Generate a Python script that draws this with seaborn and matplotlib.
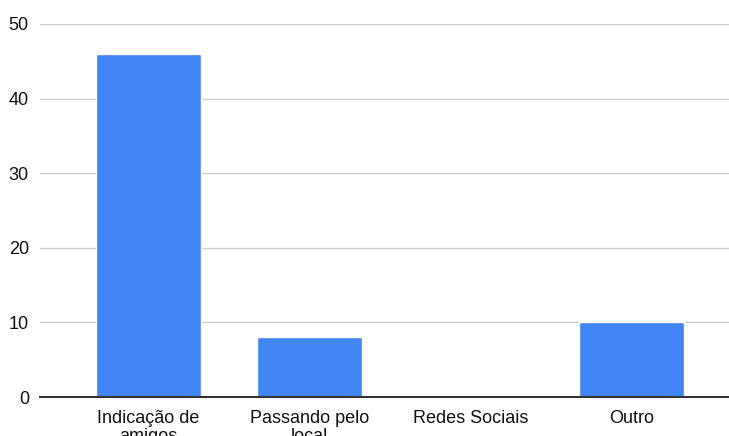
import matplotlib
matplotlib.use("Agg")
import matplotlib.pyplot as plt
import seaborn as sns
import pandas as pd

categories = ["Indicação de\namigos", "Passando pelo\nlocal", "Redes Sociais", "Outro"]
values = [46, 8, 0, 10]
yticks = [0, 10, 20, 30, 40, 50]

sns.set_theme(style="white")
plt.rcParams['font.family'] = ['Liberation Sans', 'DejaVu Sans']

df = pd.DataFrame({"cat": categories, "val": values})

fig = plt.figure(figsize=(7.29, 4.36), dpi=100)
ax = fig.add_axes([40/729, 1-397/436, 1-40/729, (397-24)/436])

sns.barplot(data=df, x="cat", y="val", color="#4285F4", width=0.65,
            saturation=1, ax=ax, zorder=3)

ax.set_ylim(0, 50)
ax.set_xlim(-0.674, 3.606)
ax.set_yticks(yticks)
ax.set_yticklabels([str(t) for t in yticks], fontsize=13, color="#111111")
ax.tick_params(axis='y', length=0, pad=8)
ax.tick_params(axis='x', length=0, pad=9)
for lbl in ax.get_xticklabels():
    lbl.set_fontsize(13)
    lbl.set_color("#111111")
    lbl.set_linespacing(1.1)
ax.set_xlabel("")
ax.set_ylabel("")
ax.grid(axis='y', color="#cccccc", linewidth=1, zorder=0)
for s in ["top", "right", "left"]:
    ax.spines[s].set_visible(False)
ax.spines["bottom"].set_color("#333333")
ax.spines["bottom"].set_linewidth(1.5)
ax.spines["bottom"].set_zorder(4)

fig.savefig("out.png", dpi=100)
